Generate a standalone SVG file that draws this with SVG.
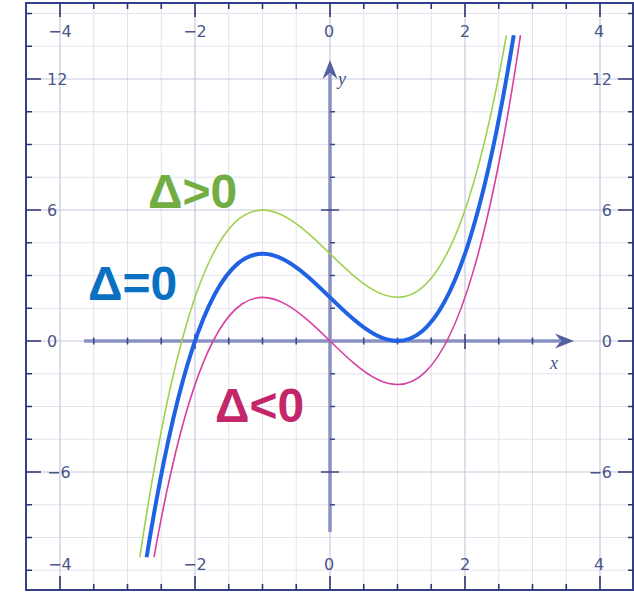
<svg xmlns="http://www.w3.org/2000/svg" width="634" height="592" viewBox="0 0 634 592">
<style>
.minor{stroke:#e3e3ef;stroke-width:1;fill:none}
.major{stroke:#c6c8dc;stroke-width:1.2;fill:none}
.tk{stroke:#2d3672;stroke-width:1.6;fill:none}
.atk{stroke:#3e4782;stroke-width:1.6;fill:none}
.num{font-family:"DejaVu Sans",Verdana,sans-serif;font-size:16px;fill:#4a5688}
.var{font-family:"Liberation Serif",serif;font-style:italic;font-size:18px;fill:#4a5688}
.axis{stroke:#8a91c2;stroke-width:3.5;fill:none}
.big{font-family:"Liberation Sans",Arial,sans-serif;font-weight:bold;font-size:48px}
</style>
<rect x="0" y="0" width="634" height="592" fill="#ffffff"/>
<g id="grid">
<path class="minor" d="M93.75 3V590M127.5 3V590M161.25 3V590M228.75 3V590M262.5 3V590M296.25 3V590M363.75 3V590M397.5 3V590M431.25 3V590M498.75 3V590M532.5 3V590M566.25 3V590"/>
<path class="minor" d="M26 570.25H634M26 504.75H634M26 439.25H634M26 406.5H634M26 373.75H634M26 308.25H634M26 275.5H634M26 242.75H634M26 177.25H634M26 144.5H634M26 111.75H634M26 46.25H634M26 13.5H634M26 537.5H634"/>
<path class="major" d="M60 3V590M195 3V590M330 3V590M465 3V590M600 3V590"/>
<path class="major" d="M26 79H634M26 210H634M26 341H634M26 472H634"/>
</g>
<g id="frame">
<rect x="26" y="3" width="607" height="587" fill="none" stroke="#34418a" stroke-width="2"/>
<path class="tk" d="M60 3V17M195 3V17M330 3V17M465 3V17M600 3V17M93.75 3V9M127.5 3V9M161.25 3V9M228.75 3V9M262.5 3V9M296.25 3V9M363.75 3V9M397.5 3V9M431.25 3V9M498.75 3V9M532.5 3V9M566.25 3V9"/>
<path class="tk" d="M60 590V576M195 590V576M330 590V576M465 590V576M600 590V576M93.75 590V584M127.5 590V584M161.25 590V584M228.75 590V584M262.5 590V584M296.25 590V584M363.75 590V584M397.5 590V584M431.25 590V584M498.75 590V584M532.5 590V584M566.25 590V584"/>
<path class="tk" d="M26 79H41M26 210H41M26 341H41M26 472H41M26 570.25H32M26 537.5H32M26 504.75H32M26 439.25H32M26 406.5H32M26 373.75H32M26 308.25H32M26 275.5H32M26 242.75H32M26 177.25H32M26 144.5H32M26 111.75H32M26 46.25H32M26 13.5H32"/>
<path class="tk" d="M634 79H618M634 210H618M634 341H618M634 472H618M634 570.25H628M634 537.5H628M634 504.75H628M634 439.25H628M634 406.5H628M634 373.75H628M634 308.25H628M634 275.5H628M634 242.75H628M634 177.25H628M634 144.5H628M634 111.75H628M634 46.25H628M634 13.5H628"/>
</g>
<g id="tick-labels">
<text class="num" x="60" y="37" text-anchor="middle">−4</text>
<text class="num" x="195" y="37" text-anchor="middle">−2</text>
<text class="num" x="329" y="37" text-anchor="middle">0</text>
<text class="num" x="465" y="37" text-anchor="middle">2</text>
<text class="num" x="599" y="37" text-anchor="middle">4</text>
<text class="num" x="60" y="570" text-anchor="middle">−4</text>
<text class="num" x="195" y="570" text-anchor="middle">−2</text>
<text class="num" x="329" y="570" text-anchor="middle">0</text>
<text class="num" x="465" y="570" text-anchor="middle">2</text>
<text class="num" x="599" y="570" text-anchor="middle">4</text>
<text class="num" x="47" y="85">12</text>
<text class="num" x="47" y="216">6</text>
<text class="num" x="47" y="347">0</text>
<text class="num" x="47" y="478">−6</text>
<text class="num" x="612" y="85" text-anchor="end">12</text>
<text class="num" x="612" y="216" text-anchor="end">6</text>
<text class="num" x="612" y="347" text-anchor="end">0</text>
<text class="num" x="612" y="478" text-anchor="end">−6</text>
</g>
<g id="axes">
<path class="axis" d="M84 341H560"/>
<path class="axis" d="M330 532V74"/>
<path d="M574 341L555 333.5L561 341L555 348.5Z" fill="#55609e"/>
<path d="M330 60L322.5 79L330 73L337.5 79Z" fill="#55609e"/>
<path class="atk" d="M93.75 337.5V344.5M127.5 337.5V344.5M161.25 337.5V344.5M228.75 337.5V344.5M262.5 337.5V344.5M296.25 337.5V344.5M363.75 337.5V344.5M397.5 337.5V344.5M431.25 337.5V344.5M498.75 337.5V344.5M532.5 337.5V344.5M195 334V349M465 334V349"/>
<path class="atk" d="M330 504.75H335M330 439.25H335M330 406.5H335M330 373.75H335M330 308.25H335M330 275.5H335M330 242.75H335M330 177.25H335M330 144.5H335M330 111.75H335M321 472H339M321 210H339"/>
<text class="var" x="550" y="369">x</text>
<text class="var" x="338" y="85">y</text>
</g>
<g id="curves">
<path id="curve-gt0" d="M139.85 557.21C262.03 -265 384.2 726.22 506.38 35.29" fill="none" stroke="#9fd14f" stroke-width="1.6"/>
<path id="curve-lt0" d="M154.03 557.08C276.2 -129.98 398.31 860.6 520.49 35.16" fill="none" stroke="#d8409f" stroke-width="1.6"/>
<path id="curve-eq0" d="M146.6 557.28C268.98 -200.59 391.36 796.39 513.74 35.29" fill="none" stroke="#1f62e4" stroke-width="4"/>
</g>
<g id="labels">
<text class="big" x="148" y="208" fill="#72ad45">Δ&gt;0</text>
<text class="big" x="88" y="300" fill="#0a70c2">Δ=0</text>
<text class="big" x="215" y="422" fill="#c4266a">Δ&lt;0</text>
</g>
</svg>
